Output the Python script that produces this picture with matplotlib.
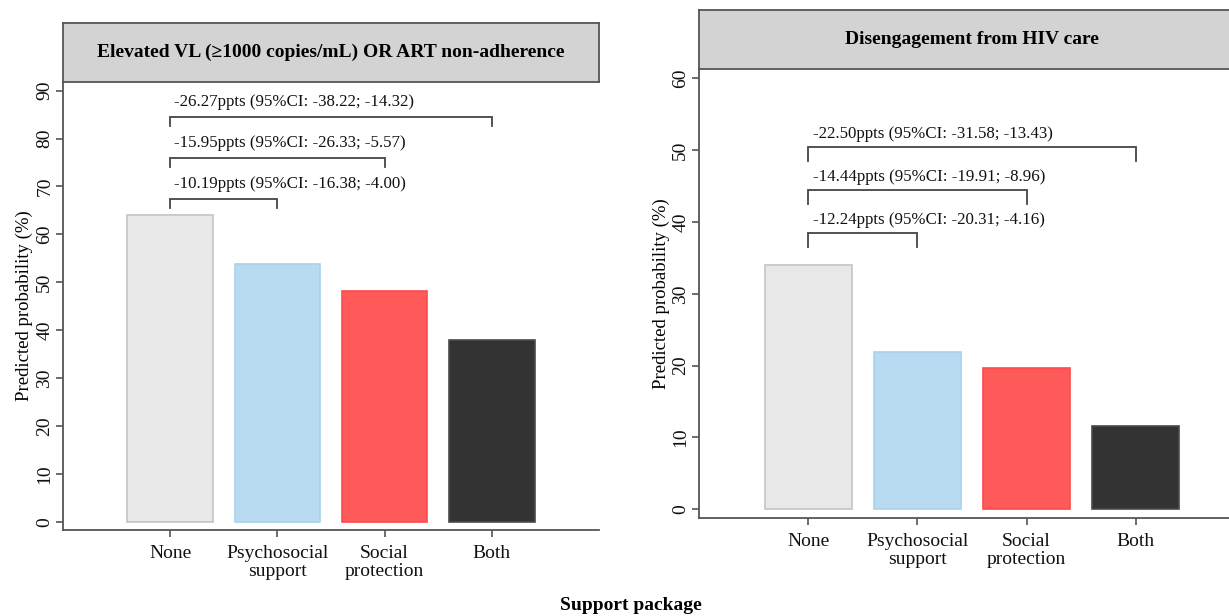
import matplotlib
matplotlib.use("Agg")
import matplotlib.pyplot as plt

plt.rcParams['font.family'] = ['Liberation Serif', 'DejaVu Serif']

categories = ["None", "Psychosocial\nsupport", "Social\nprotection", "Both"]
colors = ["#E8E8E8", "#B9DBF1", "#FF5A5A", "#333333"]
edges = ["#C4C4C4", "#A9D2EE", "#FF4A4A", "#4A4A4A"]

title_left = "Elevated VL (\u22651000 copies/mL) OR ART non-adherence"
vals_left = [64.1, 53.9, 48.15, 37.85]
labels_left = ["-10.19ppts (95%CI: -16.38; -4.00)",
               "-15.95ppts (95%CI: -26.33; -5.57)",
               "-26.27ppts (95%CI: -38.22; -14.32)"]
yticks_left = [0, 10, 20, 30, 40, 50, 60, 70, 80, 90]

title_right = "Disengagement from HIV care"
vals_right = [34.05, 21.85, 19.65, 11.6]
labels_right = ["-12.24ppts (95%CI: -20.31; -4.16)",
                "-14.44ppts (95%CI: -19.91; -8.96)",
                "-22.50ppts (95%CI: -31.58; -13.43)"]
yticks_right = [0, 10, 20, 30, 40, 50, 60]

W, H = 1229, 616
fig = plt.figure(figsize=(W / 100, H / 100), dpi=100)

spine_col = "#555555"


def panel(ax_box, hdr_box, vals, labels, yticks, ylim, title,
          bstart, bstep, leg, toff):
    l, t, r, b = ax_box
    ax = fig.add_axes([l / W, 1 - b / H, (r - l) / W, (b - t) / H])
    x = [1, 2, 3, 4]
    ax.bar(x, vals, width=0.8, color=colors, edgecolor=edges, linewidth=1.2)
    ax.set_xlim(0, 5)
    ax.set_ylim(*ylim)
    ax.set_xticks(x)
    ax.set_xticklabels(categories, fontsize=14, linespacing=1.05)
    ax.set_yticks(yticks)
    ax.set_yticklabels([str(v) for v in yticks], rotation=90, va='center',
                       fontsize=14)
    for s in ['top', 'right']:
        ax.spines[s].set_visible(False)
    for s in ['left', 'bottom']:
        ax.spines[s].set_color(spine_col)
        ax.spines[s].set_linewidth(1.3)
    ax.tick_params(axis='both', length=5, width=1.2, color=spine_col,
                   labelcolor='#111111')
    ax.tick_params(axis='y', pad=2)
    ax.tick_params(axis='x', pad=6)
    ax.set_ylabel("Predicted probability (%)", fontsize=13.5, labelpad=2)
    # brackets
    for i, lab in enumerate(labels):
        yh = bstart + i * bstep
        x2 = x[i + 1]
        ax.plot([1, 1, x2, x2], [yh - leg, yh, yh, yh - leg],
                color='#444444', lw=1.3, solid_joinstyle='miter')
        ax.text(1.04, yh + toff, lab, fontsize=12.2, va='center', ha='left',
                color='#111111')
    # header
    hl, ht, hr, hb = hdr_box
    hax = fig.add_axes([hl / W, 1 - hb / H, (hr - hl) / W, (hb - ht) / H])
    hax.set_facecolor('#D3D3D3')
    hax.set_xticks([])
    hax.set_yticks([])
    for s in hax.spines.values():
        s.set_color(spine_col)
        s.set_linewidth(1.3)
    hax.text(0.5, 0.5, title, transform=hax.transAxes, ha='center',
             va='center', fontsize=14, fontweight='bold')
    return ax, hax


axL, hL = panel((63, 82, 599, 530), (63, 23, 599, 82), vals_left, labels_left,
                yticks_left, (-1.73, 91.8), title_left,
                bstart=67.3, bstep=8.55, leg=1.75, toff=3.3)
axR, hR = panel((699, 69.3, 1245, 517.7), (699, 10, 1245, 69.3), vals_right,
                labels_right, yticks_right, (-1.17, 61.25), title_right,
                bstart=38.5, bstep=6.0, leg=1.95, toff=1.8)

fig.text(631 / W, 1 - 605 / H, "Support package", ha='center', va='center',
         fontsize=14, fontweight='bold')

fig.savefig("out.png", dpi=100)
